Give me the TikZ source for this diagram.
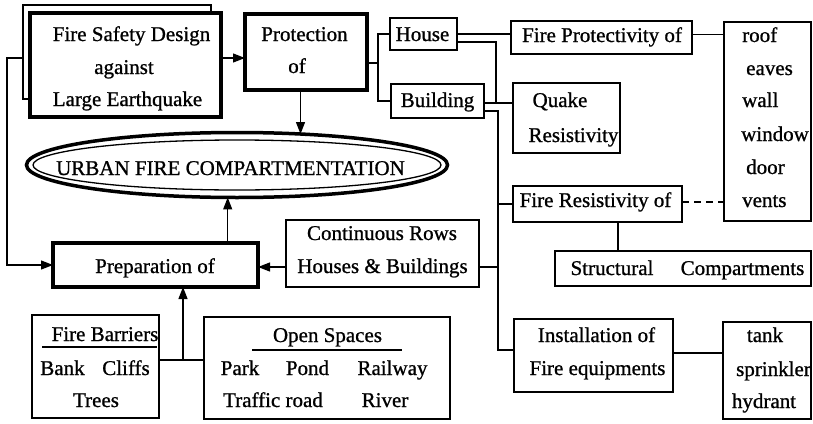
\documentclass[tikz,border=0pt]{standalone}
\usepackage{fontspec}
\setmainfont{Liberation Serif}[FakeBold=0.9]
\usetikzlibrary{arrows.meta,shapes.geometric,calc}
\newcommand\bx[6]{\node[#6, minimum width={(#4-#2)*1pt}, minimum height={(#5-#3)*1pt}] (#1) at ({(#2+#4)/2},{(#3+#5)/2}) {};}
\begin{document}
\begin{tikzpicture}[x=1pt,y=-1pt,
  box/.style={draw, line width=1.5pt, inner sep=0pt, outer sep=0pt},
  thickbox/.style={box, line width=4pt},
  txt/.style={font=\fontsize{21}{25}\selectfont, inner sep=0pt, anchor=base},
  txl/.style={txt, anchor=base west},
  ln/.style={line width=1.2pt},
  arr/.style={ln, -{Triangle[length=12pt,width=9pt]}}]
\useasboundingbox (0,0) rectangle (813,423);
\fill[white] (0,0) rectangle (813,423);

% boxes
\bx{safety}{30}{13}{221}{117}{thickbox}
\bx{protect}{245}{14}{367}{90}{thickbox}
\bx{house}{390}{18}{457}{50}{box}
\bx{building}{391}{84}{484}{118}{box}
\bx{fireprot}{511}{21}{692}{54}{box}
\bx{elements}{724}{22}{811}{221}{box}
\bx{quake}{513}{83}{620}{153}{box}
\bx{fireres}{513}{186}{682}{222}{box}
\bx{struct}{555}{251}{811}{286}{box}
\bx{install}{514}{319}{673}{392}{box}
\bx{equip}{723}{322}{811}{419}{box}
\bx{rows}{286}{220}{479}{287}{box}
\bx{prep}{53}{243}{258}{287}{thickbox}
\bx{barriers}{32}{315}{159}{418}{box}
\bx{open}{204}{317}{450}{419}{box}

% ellipse
\node[ellipse, draw, line width=3.5pt, minimum width=421pt, minimum height=65pt, inner sep=0pt, outer sep=0pt] (urban) at (237,165) {};
\draw[line width=1.3pt] (urban.center) ellipse [x radius=204, y radius=25];
\node[txt] (urbantxt) at (230.5,175) {URBAN FIRE COMPARTMENTATION};

% texts
\node[txt] (t1) at (131.5,41) {Fire Safety Design};
\node[txt] (t2) at (124,74) {against};
\node[txt] (t3) at (127.5,106) {Large Earthquake};
\node[txt] (t4) at (304.5,41) {Protection};
\node[txt] (t5) at (297,73) {of};
\node[txt] (t6) at (422.5,41) {House};
\node[txt] (t7) at (437.5,107) {Building};
\node[txt] (t8) at (602,42) {Fire Protectivity of};
\node[txt] (t9) at (560,107) {Quake};
\node[txt] (t10) at (573.5,142) {Resistivity};
\node[txt] (t11) at (595.5,207) {Fire Resistivity of};
\node[txl] (e1) at (742,42) {roof};
\node[txl] (e2) at (746,75) {eaves};
\node[txl] (e3) at (742,107) {wall};
\node[txl] (e4) at (741,141) {window};
\node[txl] (e5) at (746,174) {door};
\node[txl] (e6) at (742,207) {vents};
\node[txt] (t12) at (612,275) {Structural};
\node[txt] (t13) at (742.5,275) {Compartments};
\node[txt] (t14) at (596.5,342) {Installation of};
\node[txt] (t15) at (597.5,375) {Fire equipments};
\node[txt] (q1) at (765,342) {tank};
\node[txt] (q2) at (773.5,376) {sprinkler};
\node[txt] (q3) at (764,408) {hydrant};
\node[txt] (t16) at (382,240) {Continuous Rows};
\node[txt] (t17) at (382.5,273) {Houses \& Buildings};
\node[txt] (t18) at (155,273) {Preparation of};
\node[txt] (b1) at (105,341) {Fire Barriers};
\node[txt] (b2) at (62.5,375) {Bank};
\node[txt] (b3) at (126,375) {Cliffs};
\node[txt] (b4) at (96,407) {Trees};
\node[txt] (o1) at (327.5,342) {Open Spaces};
\node[txt] (o2) at (240,375) {Park};
\node[txt] (o3) at (307.5,375) {Pond};
\node[txt] (o4) at (392.5,375) {Railway};
\node[txt] (o5) at (273,407) {Traffic road};
\node[txt] (o6) at (385,407) {River};
\draw[line width=1.3pt] (42,347) -- (157,347);
\draw[line width=1.3pt] (252,350) -- (402,350);

% coordinates
\coordinate (pj) at (378,63);
\coordinate (qj) at (496,103);
\coordinate (bj) at (498,111);
\coordinate (bjend) at (498,350);
\coordinate (fa) at (23,5);
\coordinate (fb) at (23,58);
\coordinate (fc) at (7,58);
\coordinate (bo) at (183,360);

% connectors
\draw[arr] ([yshift=7pt]safety.east) -- ([yshift=7pt]safety.east -| protect.west);
\draw[ln] ([yshift=-11pt]protect.east) -- (pj);
\draw[ln] (house.west) -- (house.west -| pj) -- (building.west -| pj) -- (building.west);
\draw[ln] (house.east) -- (house.east -| fireprot.west);
\draw[ln] ([yshift=-8pt]house.east) -| (qj);
\draw[ln] (building.east |- qj) -- (qj -| quake.west);
\draw[ln] (building.east |- bj) -- (bj) -- (bjend) -- (bjend -| install.west);
\draw[ln] (bj |- fireres.west) -- (fireres.west);
\draw[ln] ([yshift=-13.5pt]rows.east) -- ([yshift=-13.5pt]rows.east -| bj);
\draw[ln] ([yshift=3pt]fireprot.east) -- ([yshift=3pt]fireprot.east -| elements.west);
\draw[ln, dash pattern=on 7pt off 5pt] ([yshift=2pt]fireres.east) -- ([yshift=2pt]fireres.east -| elements.west);
\draw[ln] ([xshift=20.5pt]fireres.south) -- ([xshift=20.5pt]fireres.south |- struct.north);
\draw[ln] ([yshift=2.5pt]install.east) -- ([yshift=2.5pt]install.east -| equip.west);
\draw[arr] (urban.26.2 |- protect.south) -- (urban.26.2);
\draw[arr] (urban.254.5 |- prep.north) -- (urban.254.5);
\draw[arr] ([yshift=-13.5pt]rows.west) -- ([yshift=-13.5pt]rows.west -| prep.east);
\draw[ln] ([xshift=-10pt]safety.north east) |- (fa) |- ([yshift=-34pt]safety.west);
\draw[arr] (fb) -- (fc) |- (prep.west);
\draw[ln] (barriers.east |- bo) -- (open.west |- bo);
\draw[arr] (bo) -- (bo |- prep.south);
\end{tikzpicture}
\end{document}
